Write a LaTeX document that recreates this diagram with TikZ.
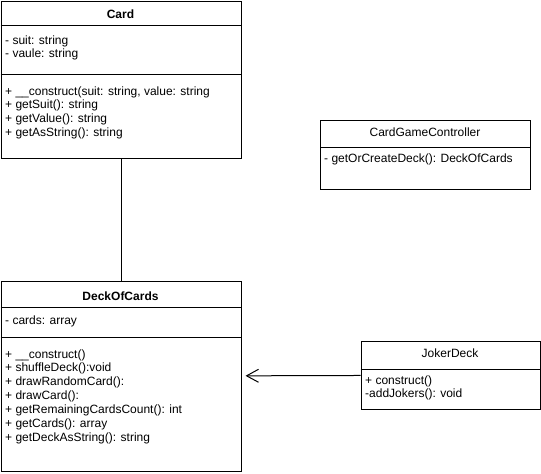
\documentclass[tikz,border=0pt]{standalone}
\usepackage{fontspec}
\setmainfont{Liberation Sans}
\usetikzlibrary{arrows.meta}
\tikzset{
  box/.style={draw, line width=1pt, anchor=north west, inner sep=0pt},
  txt/.style={anchor=west, inner sep=0pt, text height=8.6pt, text depth=0pt, font=\fontsize{12}{14}\selectfont},
  ttl/.style={txt, anchor=center},
}
\begin{document}
\begin{tikzpicture}[x=1pt, y=-1pt]
	\useasboundingbox (0,0) rectangle (541,474);
	% boxes
	\path(0.5,0.5)   node[box, minimum width=240pt, minimum height=157pt](Card) {};
	\path(0.5,280.7) node[box, minimum width=240pt, minimum height=190pt](Deck) {};
	\path(320,120)   node[box, minimum width=210pt, minimum height=69pt](Ctrl) {};
	\path(360.7,340.7) node[box, minimum width=179pt, minimum height=68pt](Joker) {};
	% dividers
	\draw[line width=1pt] (Card.west |- 0,25.7) -- (Card.east |- 0,25.7);
	\draw[line width=1pt] (Card.west |- 0,74) -- (Card.east |- 0,74);
	\draw[line width=1pt] (Deck.west |- 0,307.3) -- (Deck.east |- 0,307.3);
	\draw[line width=1pt] (Deck.west |- 0,337) -- (Deck.east |- 0,337);
	\draw[line width=1pt] (Ctrl.west |- 0,147.7) -- (Ctrl.east |- 0,147.7);
	\draw[line width=1pt] (Joker.west |- 0,369.7) -- (Joker.east |- 0,369.7);
	% Card
	\path(120.5,14) node[ttl, font=\fontsize{12}{14}\selectfont\bfseries](CardT) {Card};
	\path(5,40)  node[txt](CardA1) {- suit: string};
	\path(5,53)  node[txt](CardA2) {- vaule: string};
	\path(5,91)  node[txt](CardM1) {+ \_\_construct(suit: string, value: string};
	\path(5,104) node[txt](CardM2) {+ getSuit(): string};
	\path(5,118) node[txt](CardM3) {+ getValue(): string};
	\path(5,132) node[txt](CardM4) {+ getAsString(): string};
	% DeckOfCards
	\path(120.5,296) node[ttl, font=\fontsize{12}{14}\selectfont\bfseries](DeckT) {DeckOfCards};
	\path(5,320) node[txt](DeckA1) {- cards: array};
	\path(5,354) node[txt](DeckM1) {+ \_\_construct()};
	\path(5,367) node[txt](DeckM2) {+ shuffleDeck():void};
	\path(5,381) node[txt](DeckM3) {+ drawRandomCard():};
	\path(5,395) node[txt](DeckM4) {+ drawCard():};
	\path(5,409) node[txt](DeckM5) {+ getRemainingCardsCount(): int};
	\path(5,423) node[txt](DeckM6) {+ getCards(): array};
	\path(5,437) node[txt](DeckM7) {+ getDeckAsString(): string};
	% CardGameController
	\path(425,132) node[ttl](CtrlT) {CardGameController};
	\path(324,158) node[txt](CtrlM1) {- getOrCreateDeck(): DeckOfCards};
	% JokerDeck
	\path(450,353) node[ttl](JokerT) {JokerDeck};
	\path(365,380) node[txt](JokerM1) {+ construct()};
	\path(365,393) node[txt](JokerM2) {-addJokers(): void};
	% connectors
	\draw[line width=1pt] (Card) -- (Deck);
	\draw[-{Straight Barb[length=12pt,width=13pt]}, line width=1pt, shorten >=4pt] (Joker) -- (Deck);
\end{tikzpicture}
\end{document}
